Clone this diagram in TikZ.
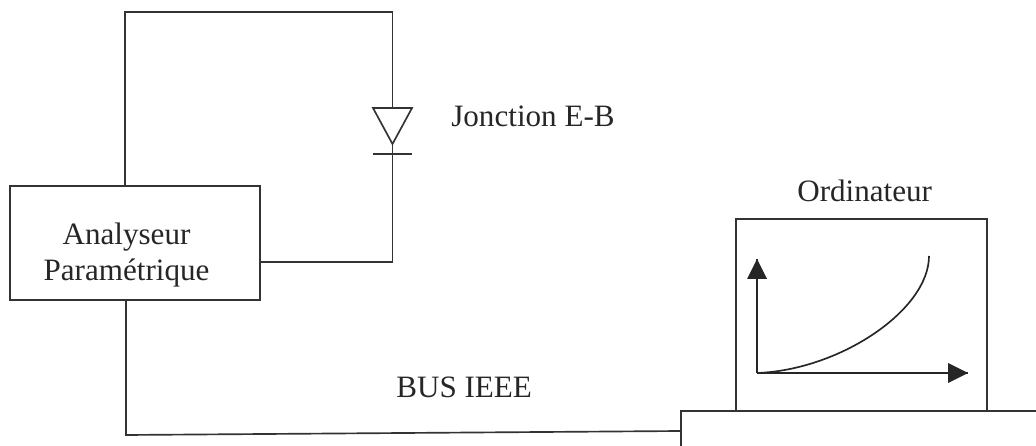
\documentclass[tikz,border=0pt]{standalone}
\usepackage{fontspec}
\setmainfont{Liberation Serif}
\usetikzlibrary{calc,positioning}
\tikzset{
  wire/.style={color=black!80,line width=0.95pt},
  block/.style={draw=black!80,line width=0.95pt,fill=none,inner sep=0pt},
  label/.style={inner sep=0pt,anchor=base west,font=\fontsize{17.7}{21}\selectfont,text=black!85},
  axis/.style={color=black!85,line width=0.95pt}
}
\begin{document}
\begin{tikzpicture}[x=0.02cm,y=-0.02cm]
\useasboundingbox (0,0) rectangle (1036,446);
\node[block,minimum width=5cm,minimum height=2.28cm] (Analyseur) at (135,243) {};
\node[block,minimum width=5.02cm,minimum height=3.84cm] (Ordi) at (861.5,315) {};
\node[block,minimum width=8cm,minimum height=2cm] (Unite) at (881,461) {};
\node[label,anchor=center,align=center] (AnalyseurTxt) at (126.5,255) {Analyseur\\Paramétrique};
% diode
\coordinate (DiodeA) at (392.5,108);
\coordinate (DiodeK) at (392.5,144);
\coordinate (BarL) at (373,154);
\coordinate (BarR) at (412,154);
\coordinate (BarM) at (392.5,154);
\draw[wire]
     (Analyseur.north -| 125,0) -- (125,12) -| (DiodeA)
     (Analyseur.east |- 0,262) -| (BarM);
\draw[wire] (Analyseur.south -| 126,0) -- (126,435) -- (Unite.west |- 0,431);
\draw[wire] ($(DiodeA)-(19.5,0)$) -- ($(DiodeA)+(19.5,0)$) -- (DiodeK) -- cycle;
\draw[wire] (BarL) -- (BarR) (DiodeK) -- (BarM);
% courbe
\coordinate (Origine) at (757,373);
\coordinate (AxeY) at (757,259);
\coordinate (AxeX) at (968,373);
\draw[axis] (Origine) -- (AxeY);
\draw[axis] (Origine) -- (AxeX);
\fill[black!85] (AxeY) -- ($(AxeY)+(-10,20)$) -- ($(AxeY)+(10,20)$) -- cycle;
\fill[black!85] (AxeX) -- ($(AxeX)+(-20,-10)$) -- ($(AxeX)+(-20,10)$) -- cycle;
\draw[axis] (Origine) .. controls (840,370) and (929,310) .. (929,256);
% textes
\node[label] (Jonction) at (451,127) {Jonction E-B};
\node[label] (Ordinateur) at (797,202) {Ordinateur};
\node[label] (Bus) at (396,398) {BUS IEEE};
\end{tikzpicture}
\end{document}
